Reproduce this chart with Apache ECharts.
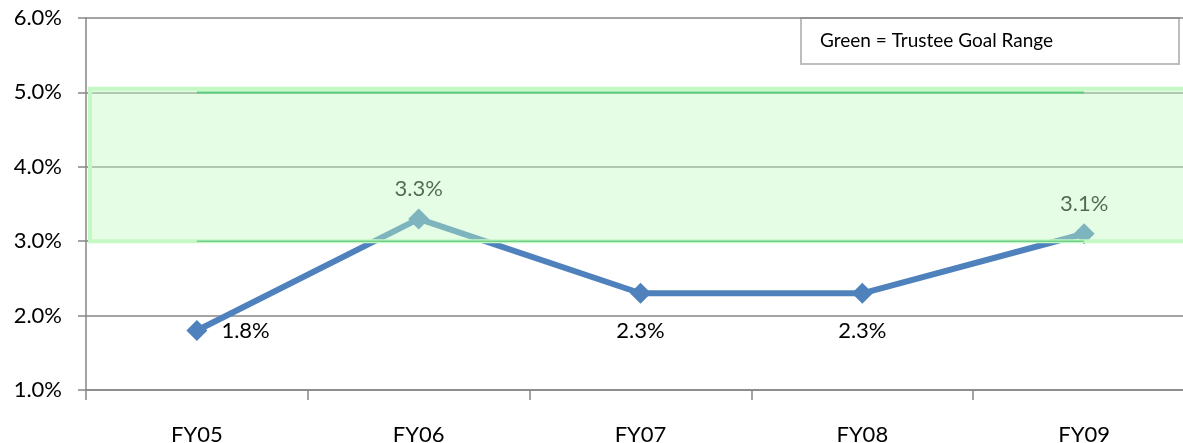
<!DOCTYPE html>
<html>
<head>
<meta charset="utf-8">
<script src="https://cdn.jsdelivr.net/npm/echarts@6/dist/echarts.min.js"></script>
<style>
  html, body { margin: 0; padding: 0; background: #fff; }
  #chart { width: 1183px; height: 443px; }
</style>
</head>
<body>
<div id="chart"></div>
<script>
const categories = ['FY05', 'FY06', 'FY07', 'FY08', 'FY09']
const returns = [1.8, 3.3, 2.3, 2.3, 3.1]
const goalLow = [3.0, 3.0, 3.0, 3.0, 3.0]
const goalHigh = [5.0, 5.0, 5.0, 5.0, 5.0]
const goalBand = [3.0, 5.05]
const labelSpots = ['right', 'top', 'bottom', 'bottom', 'top']

const font = 'Lato, "Open Sans", sans-serif'
const axisGrey = '#868686'

const chart = echarts.init(document.getElementById('chart'), null, { renderer: 'canvas' })

const option = {
  animation: false,
  textStyle: { fontFamily: font },
  grid: { left: 86, top: 18, height: 372, width: 1109, outerBoundsMode: 'none', containLabel: false },
  xAxis: {
    type: 'category',
    data: categories,
    boundaryGap: true,
    axisLine: { lineStyle: { color: axisGrey, width: 1.5 } },
    axisTick: { show: true, length: 10, lineStyle: { color: axisGrey, width: 1.5 } },
    axisLabel: { color: '#000', fontSize: 22, margin: 34, fontFamily: font }
  },
  yAxis: {
    type: 'value',
    min: 1,
    max: 6,
    interval: 1,
    axisLine: { show: true, lineStyle: { color: axisGrey, width: 1.5 } },
    axisTick: { show: true, length: 8, lineStyle: { color: axisGrey, width: 1.5 } },
    axisLabel: {
      color: '#000', fontSize: 22, margin: 24, fontFamily: font,
      formatter: v => v.toFixed(1) + '%'
    },
    splitLine: { lineStyle: { color: axisGrey, width: 1.5 } }
  },
  series: [
    {
      name: 'Return',
      type: 'line',
      z: 2,
      symbol: 'diamond',
      symbolSize: 21,
      lineStyle: { color: '#4f81bd', width: 6 },
      itemStyle: { color: '#4f81bd' },
      label: {
        show: true,
        color: '#000',
        fontSize: 22,
        fontFamily: font,
        formatter: p => p.value.toFixed(1) + '%'
      },
      data: returns.map((v, i) => ({
        value: v,
        label: {
          position: labelSpots[i],
          distance: labelSpots[i] === 'bottom' ? 16 : (labelSpots[i] === 'right' ? 14 : 8)
        }
      }))
    },
    {
      name: 'Goal high',
      type: 'line',
      data: goalHigh,
      z: 11,
      symbol: 'none',
      lineStyle: { color: '#5ccf7c', width: 2 },
      silent: true
    },
    {
      name: 'Goal low',
      type: 'line',
      data: goalLow,
      z: 11,
      symbol: 'none',
      lineStyle: { color: '#6fcf8a', width: 1.5 },
      silent: true
    },
    {
      name: 'Band',
      type: 'line',
      data: [],
      z: 10,
      markArea: {
        silent: true,
        z: 10,
        itemStyle: {
          color: 'rgba(190, 250, 190, 0.42)',
          borderColor: '#c4f9c4',
          borderWidth: 4
        },
        data: [[{ yAxis: goalBand[0], x: 90 }, { yAxis: goalBand[1] }]]
      }
    }
  ],
  graphic: [
    {
      type: 'group',
      left: 800,
      top: 17,
      z: 20,
      children: [
        {
          type: 'rect',
          shape: { x: 0, y: 0, width: 378, height: 46 },
          style: { fill: '#fff', stroke: '#bdbdbd', lineWidth: 2 }
        },
        {
          type: 'text',
          x: 19,
          y: 23,
          style: {
            text: 'Green = Trustee Goal Range',
            fill: '#000',
            font: '19px ' + font,
            verticalAlign: 'middle'
          }
        }
      ]
    }
  ]
}

chart.setOption(option)
window.addEventListener('resize', () => chart.resize())
</script>
</body>
</html>
